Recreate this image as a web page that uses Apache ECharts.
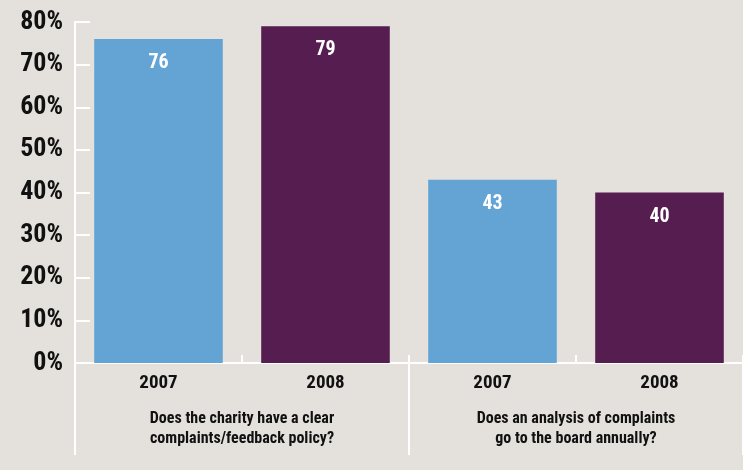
<!DOCTYPE html>
<html>
<head>
<meta charset="utf-8">
<script src="https://cdn.jsdelivr.net/npm/echarts@6/dist/echarts.min.js"></script>
<style>
  html, body { margin: 0; padding: 0; background: #e4e1dc; }
  #chart { width: 743px; height: 470px; }
</style>
</head>
<body>
<div id="chart"></div>
<script>
// Survey answers: share of charities saying "yes", by year and question
const years = ['2007', '2008', '2007', '2008'];
const questions = [
  'Does the charity have a clear\ncomplaints/feedback policy?',
  'Does an analysis of complaints\ngo to the board annually?'
];
const shares = [76, 79, 43, 40];
const yTicks = { min: 0, max: 80, step: 10 };

const yearColors = { '2007': '#63a4d4', '2008': '#561d51' };
// Roboto's width axis gives a condensed bold face through the font shorthand
const FONT = 'Roboto, "Open Sans", sans-serif';
const WEIGHT = 'bold condensed';
const INK = '#111111';
const WHITE = '#ffffff';

const chart = echarts.init(document.getElementById('chart'), null, { renderer: 'canvas' });

chart.setOption({
  backgroundColor: '#e4e1dc',
  animation: false,
  grid: { left: 75, top: 22, width: 671, bottom: 107, containLabel: false },
  xAxis: [
    {
      type: 'category',
      data: years,
      position: 'bottom',
      axisLine: { show: true, lineStyle: { color: WHITE, width: 2 } },
      axisTick: { show: true, inside: true, length: 8, lineStyle: { color: WHITE, width: 2 } },
      axisLabel: { color: INK, fontFamily: FONT, fontWeight: WEIGHT, fontSize: 19, margin: 11 }
    },
    {
      type: 'category',
      data: questions,
      position: 'bottom',
      axisLine: { show: false },
      axisTick: { show: true, length: 92, lineStyle: { color: WHITE, width: 2 } },
      axisLabel: {
        color: INK, fontFamily: FONT, fontWeight: WEIGHT, fontSize: 16,
        lineHeight: 20, margin: 46, align: 'center'
      }
    }
  ],
  yAxis: {
    type: 'value',
    min: yTicks.min,
    max: yTicks.max,
    interval: yTicks.step,
    axisLine: { show: true, lineStyle: { color: WHITE, width: 2 } },
    axisTick: { show: true, inside: true, length: 15, lineStyle: { color: WHITE, width: 2 } },
    splitLine: { show: false },
    axisLabel: {
      formatter: '{value}%', color: INK, fontFamily: FONT,
      fontWeight: WEIGHT, fontSize: 26, margin: 12
    }
  },
  series: [{
    type: 'bar',
    xAxisIndex: 0,
    barCategoryGap: '23%',
    data: shares.map((v, i) => ({ value: v, itemStyle: { color: yearColors[years[i]] } })),
    label: {
      show: true,
      position: 'insideTop',
      distance: 14,
      color: WHITE,
      fontFamily: FONT,
      fontWeight: WEIGHT,
      fontSize: 20
    }
  }]
});
</script>
</body>
</html>
